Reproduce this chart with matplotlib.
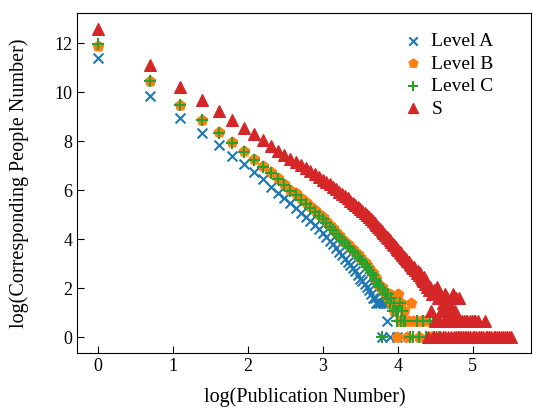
import matplotlib
matplotlib.use('Agg')
import matplotlib.pyplot as plt
import numpy as np

plt.rcParams['font.family'] = ['Liberation Serif', 'DejaVu Serif']

# publication number k -> log(number of people with k publications)
pubs_a = list(range(1, 50)) + [54, 58, 150]
logn_a = [11.42, 9.87, 8.96, 8.33, 7.84, 7.41, 7.06, 6.74, 6.47, 6.13,
          5.90, 5.70, 5.50, 5.30, 5.10, 4.92, 4.75, 4.58, 4.42, 4.25,
          4.10, 3.95, 3.80, 3.64, 3.50, 3.37, 3.22, 3.09, 2.94, 2.83,
          2.71, 2.56, 2.40, 2.30, 2.20, 2.08, 1.95, 1.79, 1.61, 1.61,
          1.39, 1.39, 1.39, 0.0, 1.39, 1.39, 0.69, 1.39, 0.0,
          0.0, 0.0, 0.0]

pubs_b = list(range(1, 61)) + [62, 63, 65, 67, 70, 72, 74, 78, 85, 160]
logn_b = [11.89, 10.45, 9.50, 8.89, 8.38, 7.98, 7.61, 7.30, 7.00, 6.76,
          6.50, 6.28, 6.03, 5.88, 5.68, 5.52, 5.36, 5.20, 5.05, 4.90,
          4.75, 4.60, 4.46, 4.32, 4.18, 4.03, 3.91, 3.81, 3.71, 3.61,
          3.50, 3.40, 3.30, 3.18, 3.09, 2.94, 2.83, 2.71, 2.64, 2.48,
          2.40, 2.20, 2.08, 2.08, 1.95, 1.79, 1.79, 1.61, 1.79, 1.39,
          1.61, 1.10, 1.39, 0.0, 1.79, 0.69, 1.39, 0.69, 1.10, 0.69,
          0.0, 0.69, 1.39, 0.69, 0.69, 0.0, 0.69, 0.69, 0.0, 0.0]

pubs_c = list(range(1, 61)) + [64, 67, 70, 72, 76, 79, 84, 87, 88, 95]
logn_c = [11.98, 10.45, 9.47, 8.86, 8.35, 7.94, 7.57, 7.26, 6.96, 6.72,
          6.45, 6.24, 5.98, 5.82, 5.63, 5.45, 5.28, 5.12, 4.97, 4.82,
          4.67, 4.52, 4.38, 4.24, 4.10, 3.97, 3.85, 3.74, 3.64, 3.53,
          3.43, 3.33, 3.22, 3.14, 3.00, 2.89, 2.77, 2.64, 2.56, 2.40,
          2.30, 2.20, 2.08, 0.0, 1.95, 1.79, 1.61, 1.79, 1.39, 1.61,
          1.10, 1.39, 1.10, 0.69, 1.10, 1.39, 0.69, 1.10, 0.69, 0.69,
          0.0, 0.0, 0.69, 0.0, 0.69, 0.0, 0.69, 0.69, 0.0, 0.0]

pubs_s = list(range(1, 126)) + [127, 128, 130, 131, 133, 135, 136, 138, 140,
                                142, 143, 146, 148, 150, 151, 153, 155, 158,
                                160, 165, 170, 174, 176, 180, 185, 190, 196,
                                200, 205, 210, 216, 222, 228, 234, 240, 246]
logn_s = [12.61, 11.12, 10.24, 9.70, 9.23, 8.89, 8.56, 8.29, 8.05, 7.81,
          7.63, 7.46, 7.30, 7.16, 7.02, 6.90, 6.78, 6.66, 6.55, 6.44,
          6.35, 6.25, 6.15, 6.05, 5.95, 5.86, 5.77, 5.68, 5.59, 5.50,
          5.41, 5.32, 5.24, 5.16, 5.07, 4.99, 4.91, 4.82, 4.74, 4.66,
          4.58, 4.50, 4.43, 4.34, 4.25, 4.19, 4.11, 4.04, 3.97, 3.89,
          3.83, 3.76, 3.69, 3.61, 3.56, 3.50, 3.43, 3.37, 3.30, 3.26,
          3.22, 3.14, 3.09, 3.00, 2.94, 2.89, 2.83, 2.89, 2.77, 2.64,
          2.71, 2.56, 2.64, 2.48, 2.40, 2.30, 2.48, 2.20, 2.30, 2.20,
          2.08, 0.0, 1.95, 2.08, 1.10, 1.79, 0.0, 1.95, 0.69, 1.79,
          0.0, 2.08, 1.61, 0.69, 1.79, 0.0, 1.10, 1.61, 0.0, 1.39,
          0.69, 1.79, 0.0, 1.10, 1.61, 0.69, 0.0, 1.39, 1.10, 0.69,
          0.0, 1.61, 0.69, 1.79, 0.0, 0.69, 1.10, 0.0, 1.61, 0.69,
          0.0, 0.69, 1.61, 0.0, 0.69,
          0.0, 0.69, 0.0, 0.69, 0.0, 0.69, 0.0, 0.69, 0.0,
          0.69, 0.0, 0.69, 0.0, 0.69, 0.0, 0.69, 0.0, 0.69,
          0.0, 0.0, 0.0, 0.69, 0.0, 0.0, 0.0, 0.0, 0.0,
          0.0, 0.0, 0.0, 0.0, 0.0, 0.0, 0.0, 0.0, 0.0]

fig = plt.figure(figsize=(5.33, 4.08), dpi=100)
ax = fig.add_axes([0.145, 0.135, 0.852, 0.833])

ax.scatter(np.log(pubs_a), logn_a, marker='x', s=50, color='#1f77b4', linewidths=1.5, label='Level A')
ax.scatter(np.log(pubs_b), logn_b, marker='p', s=60, color='#ff7f0e', label='Level B')
ax.scatter(np.log(pubs_c), logn_c, marker='+', s=80, color='#2ca02c', linewidths=1.5, label='Level C')
ax.scatter(np.log(pubs_s), logn_s, marker='^', s=70, color='#d62728', label='S')

ax.set_xticks([0, 1, 2, 3, 4, 5])
ax.set_yticks([0, 2, 4, 6, 8, 10, 12])
ax.tick_params(direction='in', length=5, labelsize=13)
ax.set_xlabel('log(Publication Number)', fontsize=14.5, labelpad=9)
ax.set_ylabel('log(Corresponding People Number)', fontsize=14.5, labelpad=18)
ax.legend(loc='upper right', frameon=False, fontsize=14, handletextpad=0.2,
          handlelength=1.5, labelspacing=0.25, borderaxespad=0.6,
          bbox_to_anchor=(0.96, 1.0), markerscale=0.85)

fig.savefig('out.png', dpi=100)
